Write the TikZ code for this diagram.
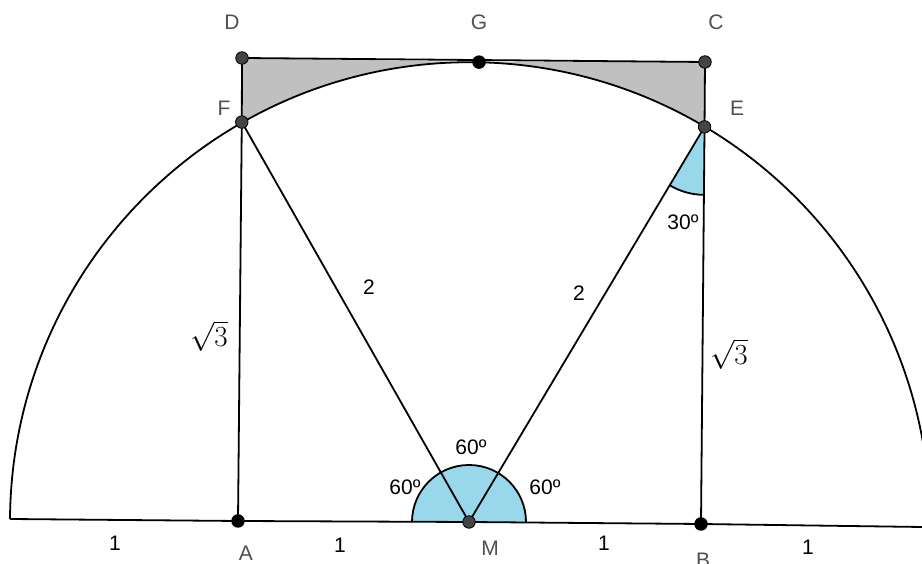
\documentclass[tikz,border=0pt]{standalone}
\usepackage{graphicx}
\usepackage{fontspec}
\setmainfont{Liberation Sans}
\usetikzlibrary{calc}
\definecolor{regiongray}{RGB}{192,192,192}
\definecolor{anglefill}{RGB}{153,216,234}
\definecolor{ptgray}{RGB}{68,68,68}
\definecolor{lblgray}{RGB}{80,80,80}
\newcommand{\rootthree}{\scalebox{1.17}{$\sqrt{3}$}}
\tikzset{
  geo/.style={line width=1.8pt, black},
  ptdark/.style={circle, fill=ptgray, draw=black, line width=0.8pt, inner sep=0pt, minimum size=12.5pt},
  ptblack/.style={circle, fill=black, inner sep=0pt, minimum size=13.5pt},
  ptlabel/.style={text=lblgray, font=\fontsize{21}{21}\selectfont},
  numlabel/.style={text=black, font=\fontsize{21}{21}\selectfont},
  rootlabel/.style={text=black, font=\fontsize{24.88}{25}\selectfont}
}
\begin{document}
\begin{tikzpicture}[x=1pt,y=1pt]
\useasboundingbox (0,0) rectangle (922,564);
\clip (0,0) rectangle (922,564);
\fill[white] (0,0) rectangle (922,564);
% points
\coordinate (L) at (10,45);
\coordinate (A) at (238,43);
\coordinate (M) at (469,42);
\coordinate (B) at (701,40);
\coordinate (R) at (922,37);
\coordinate (F) at ($(M)+(119.6:460)$);
\coordinate (E) at ($(M)+(59.2:460)$);
\coordinate (G) at ($(M)+(88.75:460)$);
\coordinate (D) at (242,506);
\coordinate (C) at (705,502);
% gray regions
\fill[regiongray] (D) -- (F) arc[start angle=119.6, end angle=88.75, radius=460] -- cycle;
\fill[regiongray] (G) -- (C) -- (E) arc[start angle=59.2, end angle=88.75, radius=460] -- cycle;
% angle at M
\fill[anglefill] ($(M)+(57,0)$) arc[start angle=0, end angle=180, radius=57] -- cycle;
\draw[geo] ($(M)+(57,0)$) arc[start angle=0, end angle=180, radius=57];
% angle at E
\fill[anglefill] (E) -- ++(239.2:68) arc[start angle=239.2, end angle=269.4, radius=68] -- cycle;
\draw[geo] ($(E)+(239.2:68)$) arc[start angle=239.2, end angle=269.4, radius=68];
% big arc
\draw[geo] (L) arc[start angle=179.6, end angle=-5, radius=460];
% segments
\draw[geo] (L) -- (A) -- (M) -- (B) -- (R);
\draw[geo] (A) -- (F) -- (D) -- (C) -- (E) -- (B);
\draw[geo] (M) -- (F);
\draw[geo] (M) -- (E);
% points
\node[ptdark] (nD) at (D) {};
\node[ptdark] (nF) at (F) {};
\node[ptdark] (nC) at (C) {};
\node[ptdark] (nE) at (E) {};
\node[ptdark] (nM) at (M) {};
\node[ptblack] (nA) at (A) {};
\node[ptblack] (nB) at (B) {};
\node[ptblack] (nG) at (G) {};
% point labels
\node[ptlabel] (tD) at (232,542) {D};
\node[ptlabel] (tG) at (479,542) {G};
\node[ptlabel] (tC) at (716,542) {C};
\node[ptlabel] (tF) at (224,456) {F};
\node[ptlabel] (tE) at (737,456) {E};
\node[ptlabel] (tA) at (246,11) {A};
\node[ptlabel] (tM) at (490,16) {M};
\node[ptlabel] (tB) at (703,4) {B};
% numbers
\node[numlabel] (n1) at (115,21) {1};
\node[numlabel] (n2) at (340,19) {1};
\node[numlabel] (n3) at (604,21) {1};
\node[numlabel] (n4) at (808,17) {1};
\node[numlabel] (d1) at (369,277) {2};
\node[numlabel] (d2) at (579,271) {2};
\node[rootlabel] (r1) at (209,228) {\rootthree};
\node[rootlabel] (r2) at (729,210) {\rootthree};
\node[numlabel] (a1) at (405,77) {60º};
\node[numlabel] (a2) at (471,117) {60º};
\node[numlabel] (a3) at (545,77) {60º};
\node[numlabel] (a4) at (683,342) {30º};
\end{tikzpicture}
\end{document}
